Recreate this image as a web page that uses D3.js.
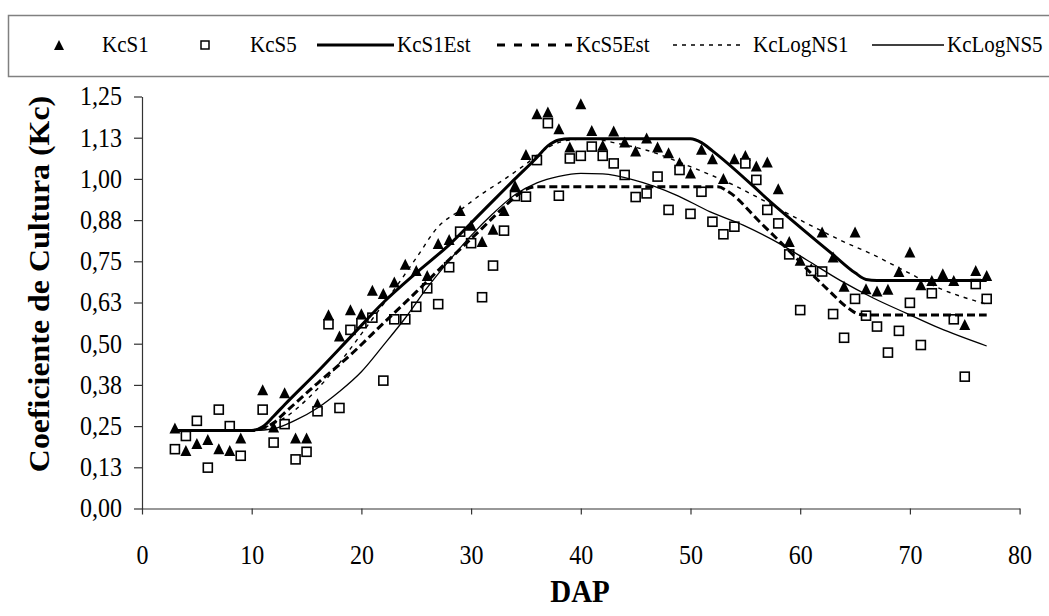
<!DOCTYPE html>
<html>
<head>
<meta charset="utf-8">
<script src="https://cdn.jsdelivr.net/npm/d3@7"></script>
<style>
  html, body { margin: 0; padding: 0; background: #fff; }
  svg { display: block; font-family: "Liberation Serif", "Times New Roman", serif; }
</style>
</head>
<body>
<svg id="chart" width="1049" height="616"></svg>
<script>
// Measured crop coefficient (Kc) per day after planting (DAP)
const kcS1 = [
  [3,0.240],[4,0.172],[5,0.193],[6,0.205],[7,0.177],[8,0.172],[9,0.210],
  [11,0.356],[12,0.243],[13,0.347],[14,0.210],[15,0.210],[16,0.314],[17,0.584],
  [18,0.519],[19,0.599],[20,0.587],[21,0.658],[22,0.648],[23,0.683],[24,0.737],
  [25,0.718],[26,0.703],[27,0.800],[28,0.812],[29,0.900],[30,0.855],[31,0.806],
  [32,0.843],[33,0.900],[34,0.976],[35,1.070],[36,1.194],[37,1.199],[38,1.148],
  [39,1.093],[40,1.224],[41,1.143],[42,1.098],[43,1.141],[44,1.108],[45,1.081],
  [46,1.120],[47,1.093],[48,1.075],[49,1.045],[50,1.014],[51,1.086],[52,1.057],
  [53,0.997],[54,1.057],[55,1.067],[56,1.035],[57,1.047],[58,0.966],[59,0.806],
  [60,0.749],[61,0.724],[62,0.835],[63,0.759],[64,0.670],[65,0.835],[66,0.663],
  [67,0.656],[68,0.661],[69,0.715],[70,0.774],[71,0.675],[72,0.688],[73,0.708],
  [74,0.688],[75,0.554],[76,0.718],[77,0.703]
];

const kcS5 = [
  [3,0.180],[4,0.220],[5,0.266],[6,0.124],[7,0.300],[8,0.250],[9,0.160],
  [11,0.300],[12,0.200],[13,0.256],[14,0.149],[15,0.172],[16,0.295],[17,0.559],
  [18,0.305],[19,0.542],[20,0.562],[21,0.579],[22,0.388],[23,0.574],[24,0.574],
  [25,0.612],[26,0.668],[27,0.620],[28,0.732],[29,0.840],[30,0.805],[31,0.641],
  [32,0.737],[33,0.843],[34,0.948],[35,0.946],[36,1.057],[37,1.169],[38,0.949],
  [39,1.062],[40,1.070],[41,1.098],[42,1.070],[43,1.047],[44,1.012],[45,0.945],
  [46,0.956],[47,1.007],[48,0.906],[49,1.027],[50,0.894],[51,0.961],[52,0.870],
  [53,0.832],[54,0.855],[55,1.047],[56,0.997],[57,0.906],[58,0.865],[59,0.771],
  [60,0.602],[61,0.721],[62,0.719],[63,0.590],[64,0.518],[65,0.636],[66,0.585],
  [67,0.552],[68,0.473],[69,0.539],[70,0.624],[71,0.496],[72,0.653],
  [74,0.574],[75,0.400],[76,0.681],[77,0.636]
];

// Estimated Kc curves (piecewise stages)
const kcS1Est = [
  [3,0.237],[10,0.237],[11,0.248],[12,0.280],[13,0.315],[16,0.415],[19,0.520],
  [22,0.625],[25,0.715],[28,0.800],[31,0.900],[34,1.000],[36,1.065],[37,1.100],
  [38,1.118],[39,1.122],[50,1.122],[51,1.110],[52,1.085],[58,0.910],[63,0.770],
  [65,0.715],[66,0.695],[67,0.692],[77,0.692]
];

const kcS5Est = [
  [3,0.237],[10,0.237],[11,0.243],[12,0.260],[13,0.290],[16,0.380],[19,0.466],
  [22,0.562],[25,0.657],[28,0.755],[31,0.850],[33,0.915],[34,0.945],[35,0.968],
  [36,0.976],[52.5,0.976],[53.5,0.960],[56.3,0.870],[58.2,0.808],[62.4,0.668],
  [64.5,0.605],[65.3,0.590],[66,0.587],[77,0.587]
];

// Log-normal fitted curves
const kcLogNS1 = [
  [3,0.235],[9,0.236],[11,0.245],[13,0.275],[15,0.330],[17,0.400],[19,0.485],
  [21,0.575],[23,0.665],[25,0.760],[27,0.855],[29,0.905],[31,0.955],[33,0.998],
  [35,1.045],[37,1.095],[39,1.118],[41,1.122],[43,1.110],[46,1.087],[50,1.037],
  [54,0.980],[56,0.946],[58,0.910],[60.6,0.865],[63.6,0.815],[66.7,0.769],
  [69.7,0.718],[72.7,0.668],[77,0.620]
];

const kcLogNS5 = [
  [3,0.235],[10,0.236],[12,0.242],[14,0.268],[16,0.305],[18,0.355],[20,0.415],
  [22,0.495],[24,0.578],[26,0.670],[28,0.752],[30,0.828],[32,0.895],[34,0.952],
  [36,0.988],[38,1.008],[40,1.017],[42,1.015],[44.8,0.997],[48.7,0.951],
  [51.8,0.900],[54.8,0.860],[57.5,0.815],[60.6,0.754],[63.6,0.693],[66.7,0.638],
  [69.7,0.592],[72.7,0.547],[77,0.493]
];

// Axis ticks
const xTicks = [0,10,20,30,40,50,60,70,80];
const yTicks = [0,0.125,0.25,0.375,0.5,0.625,0.75,0.875,1,1.125,1.25];
const yTickLabels = ["0,00","0,13","0,25","0,38","0,50","0,63","0,75","0,88","1,00","1,13","1,25"];

const TEXT_STRETCH = 1.1; // glyphs are drawn slightly taller than wide

const svg = d3.select("#chart");

const x = d3.scaleLinear().domain([0, 80]).range([142, 1019.6]);
const y = d3.scaleLinear().domain([0, 1.25]).range([508.5, 96.5]);

// Axes
const xAxis = d3.axisBottom(x)
  .tickValues(xTicks)
  .tickSize(6)
  .tickSizeOuter(0)
  .tickPadding(31)
  .tickFormat(d3.format("d"));

const yAxis = d3.axisLeft(y)
  .tickValues(yTicks)
  .tickSize(8)
  .tickSizeOuter(0)
  .tickPadding(12)
  .tickFormat((d, i) => yTickLabels[i]);

const gx = svg.append("g")
  .attr("transform", `translate(0,${y(0)})`)
  .call(xAxis);

const gy = svg.append("g")
  .attr("transform", `translate(${x(0)},0)`)
  .call(yAxis);

[gx, gy].forEach(g => {
  g.selectAll("path, line").attr("stroke", "#333").attr("stroke-width", 1.2);
  g.selectAll("text")
    .attr("fill", "#000")
    .style("font-family", "'Liberation Serif', serif")
    .style("font-size", "24px")
    .each(function () {
      const t = d3.select(this);
      const tx = +t.attr("x") || 0;
      const ty = +t.attr("y") || 0;
      t.attr("x", 0).attr("y", 0)
        .attr("transform", `translate(${tx},${ty}) scale(1,${TEXT_STRETCH})`);
    });
});

// Axis titles
svg.append("text")
  .attr("transform", `translate(580,602) scale(1,${TEXT_STRETCH})`)
  .attr("text-anchor", "middle")
  .style("font-size", "29px")
  .style("font-weight", "bold")
  .text("DAP");

svg.append("text")
  .attr("transform", `translate(49,284) scale(1,${TEXT_STRETCH}) rotate(-90)`)
  .attr("text-anchor", "middle")
  .style("font-size", "29px")
  .style("font-weight", "bold")
  .text("Coeficiente de Cultura (Kc)");

// Markers
const triW = 11, triH = 11;
const triangle = `M0,${-triH * 0.62}L${triW / 2},${triH * 0.38}L${-triW / 2},${triH * 0.38}Z`;
const plot = svg.append("g");

plot.selectAll(".tri")
  .data(kcS1)
  .join("path")
  .attr("class", "tri")
  .attr("d", triangle)
  .attr("transform", d => `translate(${x(d[0])},${y(d[1])})`)
  .attr("fill", "#000");

const sq = 9;
plot.selectAll(".sq")
  .data(kcS5)
  .join("rect")
  .attr("class", "sq")
  .attr("x", d => x(d[0]) - sq / 2)
  .attr("y", d => y(d[1]) - sq / 2)
  .attr("width", sq)
  .attr("height", sq)
  .attr("fill", "#fff")
  .attr("stroke", "#000")
  .attr("stroke-width", 1.6);

// Curves
const line = d3.line()
  .x(d => x(d[0]))
  .y(d => y(d[1]))
  .curve(d3.curveMonotoneX);

const lineStyles = [
  { data: kcS1Est,  width: 3,   dash: null },
  { data: kcS5Est,  width: 3,   dash: "8,4" },
  { data: kcLogNS1, width: 1.4, dash: "4,5" },
  { data: kcLogNS5, width: 1.3, dash: null }
];

lineStyles.forEach(s => {
  plot.append("path")
    .datum(s.data)
    .attr("d", line)
    .attr("fill", "none")
    .attr("stroke", "#000")
    .attr("stroke-width", s.width)
    .attr("stroke-dasharray", s.dash);
});

// Legend
const legend = svg.append("g");
legend.append("rect")
  .attr("x", 8.5).attr("y", 15.5)
  .attr("width", 1060).attr("height", 61)
  .attr("fill", "#fff")
  .attr("stroke", "#808080")
  .attr("stroke-width", 1.5);

const ly = 45;
legend.append("path")
  .attr("d", `M0,-6L5,4L-5,4Z`)
  .attr("transform", `translate(59,${ly + 1})`)
  .attr("fill", "#000");
legend.append("rect")
  .attr("x", 201).attr("y", ly - 4)
  .attr("width", 8).attr("height", 8)
  .attr("fill", "#fff").attr("stroke", "#000").attr("stroke-width", 1.5);

const legendLines = [
  { x1: 317, x2: 394, width: 3,   dash: null },
  { x1: 497, x2: 572, width: 3,   dash: "8,9" },
  { x1: 673, x2: 745, width: 1.4, dash: "4,5" },
  { x1: 872, x2: 944, width: 1.3, dash: null }
];
legendLines.forEach(l => {
  legend.append("line")
    .attr("x1", l.x1).attr("x2", l.x2)
    .attr("y1", ly).attr("y2", ly)
    .attr("stroke", "#000")
    .attr("stroke-width", l.width)
    .attr("stroke-dasharray", l.dash);
});

const legendLabels = [
  { x: 102, text: "KcS1" },
  { x: 250, text: "KcS5" },
  { x: 397, text: "KcS1Est" },
  { x: 576, text: "KcS5Est" },
  { x: 753, text: "KcLogNS1" },
  { x: 947, text: "KcLogNS5" }
];
legend.selectAll(".ll")
  .data(legendLabels)
  .join("text")
  .attr("class", "ll")
  .attr("transform", d => `translate(${d.x},${ly + 7}) scale(1,${TEXT_STRETCH})`)
  .style("font-size", "21px")
  .text(d => d.text);
</script>
</body>
</html>
